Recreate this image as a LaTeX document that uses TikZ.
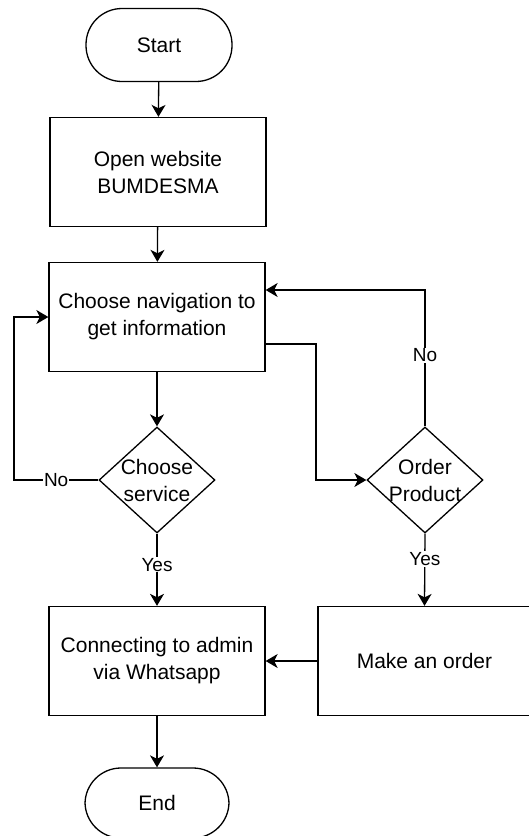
\documentclass[tikz,border=0pt]{standalone}
\usepackage{fontspec}
\setmainfont{Liberation Sans}
\usetikzlibrary{arrows.meta,shapes.geometric,positioning}

\begin{document}
\begin{tikzpicture}[x=1pt,y=-1pt,font=\fontsize{21}{27}\selectfont,line width=1.3pt,
  >={Stealth[length=12pt,width=14pt,inset=3.5pt]},
  term/.style={draw,rounded corners=36pt,minimum width=146pt,minimum height=73pt},
  procbox/.style={draw,align=center,minimum width=216pt,minimum height=109pt},
  decide/.style={draw,diamond,minimum width=116pt,minimum height=106pt,inner sep=0pt},
  lbl/.style={fill=white,inner sep=1pt,font=\fontsize{19}{23}\selectfont}]
\useasboundingbox (0,0) rectangle (529,836);
% nodes
\node[term] (start) at (159,45) {Start};
\node[procbox] (open) at (158,172) {Open website\\BUMDESMA};
\node[procbox] (nav) at (157,317) {Choose navigation to\\get information};
\node[decide,label={[align=center]center:Choose\\service}] (serv) at (157,480) {};
\node[decide,label={[align=center]center:Order\\Product}] (order) at (425,480) {};
\node[procbox] (admin) at (157,661) {Connecting to admin\\via Whatsapp};
\node[procbox,minimum width=213pt] (make) at (424.5,661) {Make an order};
\node[term,minimum width=144pt,minimum height=70pt] (end) at (157,803) {End};
\coordinate (lft) at (14,480);
\coordinate (mid) at (316,480);
% connectors
\draw[->] (start) -- (open);
\draw[->] (open) -- (nav);
\draw[->] (nav) -- (serv);
\draw[->] (serv.west) -- node[lbl]{No} (lft) |- (nav.west);
\draw[->] ([yshift=-27pt]nav.east) -| (mid) -- (order.west);
\draw[->] (order.north) |- node[lbl,pos=0.26]{No} ([yshift=27pt]nav.east);
\draw[->] (serv.south) -- node[lbl,pos=0.43]{Yes} (admin.north);
\draw[->] (order.south) -- node[lbl,pos=0.35]{Yes} (make.north);
\draw[->] (make) -- (admin);
\draw[->] (admin) -- (end);
\end{tikzpicture}
\end{document}
